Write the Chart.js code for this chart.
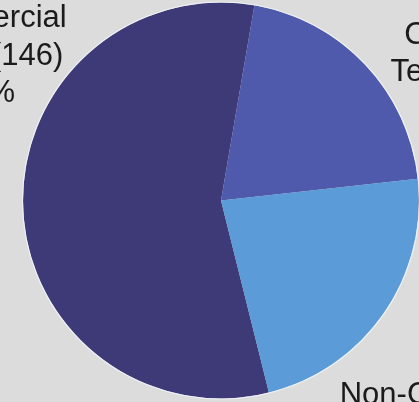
<!DOCTYPE html>
<html>
<head>
<meta charset="utf-8">
<script src="https://cdn.jsdelivr.net/npm/chart.js@4/dist/chart.umd.min.js"></script>
<style>
  html, body { margin: 0; padding: 0; background: #dcdcdc; overflow: hidden; }
  canvas { display: block; }
</style>
</head>
<body>
<canvas id="chart" width="419" height="402"></canvas>
<script>
// slice data (clockwise, first slice starts at ROTATION)
const categories = ['Commercial Sales', 'Commercial Technical', 'Non-Commercial'];
const counts     = [146, 53, 59];
const colors     = ['#3e3977', '#4f5aac', '#5a9bd8'];

// how each label wraps into lines; count is appended to the last one
const labelLines = [['Commercial', 'Sales'], ['Commercial', 'Technical'], ['Non-Commercial', '']];

const ROTATION = 166;  // degrees, start of first slice from 12 o'clock

// label anchors relative to pie centre (centre x of text, baseline of first line)
const labelOffsets = [
  { dx: -237, dy: -173.5 },
  { dx: 266,  dy: -157 },
  { dx: 235,  dy: 203.5 }
];

const FONT = '31px "Liberation Sans", Arial, sans-serif';
const LINE_H = 37.5;

// ---- plugin: light rim + outside labels ----
const pieLabels = {
  id: 'pieLabels',
  afterDatasetsDraw(chart) {
    const meta = chart.getDatasetMeta(0);
    const ctx = chart.ctx;
    const total = counts.reduce((a, b) => a + b, 0);
    const a0 = meta.data[0];

    // thin light rim around the pie
    ctx.save();
    ctx.beginPath();
    ctx.arc(a0.x, a0.y, a0.outerRadius + 0.5, 0, Math.PI * 2);
    ctx.strokeStyle = 'rgba(238,244,250,0.9)';
    ctx.lineWidth = 1.2;
    ctx.stroke();

    ctx.font = FONT;
    ctx.fillStyle = '#1b1b1b';
    ctx.textAlign = 'center';
    ctx.textBaseline = 'alphabetic';
    meta.data.forEach((arc, i) => {
      const lines = labelLines[i].slice();
      const last = lines.length - 1;
      lines[last] = (lines[last] + ' (' + counts[i] + ')').trim();
      lines.push(Math.round(counts[i] / total * 100) + '%');
      const o = labelOffsets[i];
      lines.forEach((t, k) => ctx.fillText(t, arc.x + o.dx, arc.y + o.dy + k * LINE_H));
    });
    ctx.restore();
  }
};

new Chart(document.getElementById('chart').getContext('2d'), {
  type: 'pie',
  data: {
    labels: categories,
    datasets: [{
      data: counts,
      backgroundColor: colors,
      borderWidth: 0
    }]
  },
  options: {
    responsive: false,
    animation: false,
    rotation: ROTATION,
    layout: { padding: { left: 23, right: 0, top: 2, bottom: 3 } },
    plugins: {
      legend: { display: false },
      tooltip: { enabled: false }
    }
  },
  plugins: [pieLabels]
});
</script>
</body>
</html>
